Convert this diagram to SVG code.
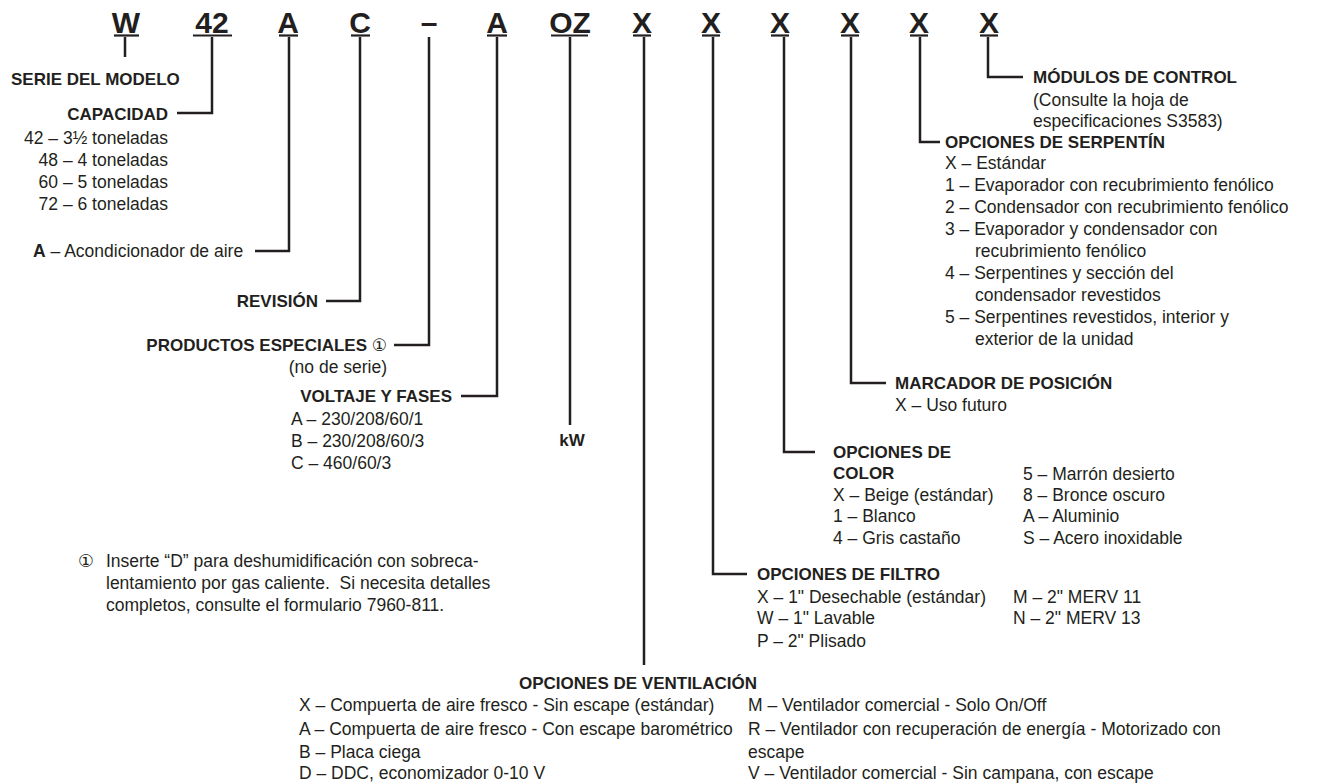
<svg xmlns="http://www.w3.org/2000/svg" width="1317" height="783" viewBox="0 0 1317 783">
<style>
text{font-family:"Liberation Sans",Arial,"DejaVu Sans",sans-serif;fill:#231f20}
.c{font-size:30px;font-weight:bold;text-anchor:middle}
.h{font-size:17px;font-weight:bold}
.t{font-size:17.5px}
.e{text-anchor:end}
.u{stroke:#231f20;stroke-width:2.2}
.k{fill:none;stroke:#231f20;stroke-width:2.5;stroke-linejoin:miter}
</style>
<rect width="1317" height="783" fill="#fff"/>
<g id="code">
<text class="c" x="126" y="33">W</text>
<text class="c" x="212" y="33">42</text>
<text class="c" x="288" y="33">A</text>
<text class="c" x="360" y="33">C</text>
<text class="c" x="429" y="33">–</text>
<text class="c" x="497" y="33">A</text>
<text class="c" x="570" y="33">OZ</text>
<text class="c" x="642" y="33">X</text>
<text class="c" x="711" y="33">X</text>
<text class="c" x="780" y="33">X</text>
<text class="c" x="850" y="33">X</text>
<text class="c" x="919" y="33">X</text>
<text class="c" x="989" y="33">X</text>
<line class="u" x1="114" y1="35.5" x2="139" y2="35.5"/>
<line class="u" x1="193" y1="35.5" x2="232" y2="35.5"/>
<line class="u" x1="279" y1="35.5" x2="298" y2="35.5"/>
<line class="u" x1="351" y1="35.5" x2="370" y2="35.5"/>
<line class="u" x1="487" y1="35.5" x2="507" y2="35.5"/>
<line class="u" x1="551" y1="35.5" x2="588" y2="35.5"/>
<line class="u" x1="633" y1="35.5" x2="651" y2="35.5"/>
<line class="u" x1="702" y1="35.5" x2="720" y2="35.5"/>
<line class="u" x1="771" y1="35.5" x2="789" y2="35.5"/>
<line class="u" x1="841" y1="35.5" x2="859" y2="35.5"/>
<line class="u" x1="910" y1="35.5" x2="928" y2="35.5"/>
<line class="u" x1="980" y1="35.5" x2="998" y2="35.5"/>
</g>
<g id="connectors">
<path class="k" d="M125 37V57"/>
<path class="k" d="M212 37V113H177"/>
<path class="k" d="M289 37V251H255"/>
<path class="k" d="M360 37V301H326"/>
<path class="k" d="M429 37V345H394"/>
<path class="k" d="M497 37V396H461"/>
<path class="k" d="M570 37V425"/>
<path class="k" d="M644 37V665"/>
<path class="k" d="M713 37V574H747"/>
<path class="k" d="M784 37V452H815"/>
<path class="k" d="M851 37V383H886"/>
<path class="k" d="M920 37V142H940"/>
<path class="k" d="M988 37V77H1023"/>
</g>
<g id="serie"><text class="h" x="11" y="85">SERIE DEL MODELO</text></g>
<g id="capacidad">
<text class="h e" x="168" y="120">CAPACIDAD</text>
<text class="t e" x="168" y="144">42 – 3½ toneladas</text>
<text class="t e" x="168" y="166">48 – 4 toneladas</text>
<text class="t e" x="168" y="188">60 – 5 toneladas</text>
<text class="t e" x="168" y="210">72 – 6 toneladas</text>
</g>
<g id="tipo"><text class="t" x="33" y="257"><tspan font-weight="bold">A</tspan> – Acondicionador de aire</text></g>
<g id="revision"><text class="h e" x="318" y="307">REVISIÓN</text></g>
<g id="productos">
<text class="h e" x="387" y="351">PRODUCTOS ESPECIALES <tspan font-weight="normal">①</tspan></text>
<text class="t e" x="387" y="373">(no de serie)</text>
</g>
<g id="voltaje">
<text class="h e" x="452" y="402">VOLTAJE Y FASES</text>
<text class="t" x="291" y="425">A – 230/208/60/1</text>
<text class="t" x="291" y="447">B – 230/208/60/3</text>
<text class="t" x="291" y="469">C – 460/60/3</text>
</g>
<g id="kw"><text class="h" x="572" y="446" text-anchor="middle">kW</text></g>
<g id="nota">
<text class="t" x="78" y="567">①</text>
<text class="t" x="106" y="567">Inserte “D” para deshumidificación con sobreca-</text>
<text class="t" x="106" y="589">lentamiento por gas caliente.&#160; Si necesita detalles</text>
<text class="t" x="106" y="611">completos, consulte el formulario 7960-811.</text>
</g>
<g id="modulos">
<text class="h" x="1033" y="83">MÓDULOS DE CONTROL</text>
<text class="t" x="1033" y="106">(Consulte la hoja de</text>
<text class="t" x="1033" y="127">especificaciones S3583)</text>
</g>
<g id="serpentin">
<text class="h" x="945" y="148">OPCIONES DE SERPENTÍN</text>
<text class="t" x="945" y="169">X – Estándar</text>
<text class="t" x="945" y="191">1 – Evaporador con recubrimiento fenólico</text>
<text class="t" x="945" y="213">2 – Condensador con recubrimiento fenólico</text>
<text class="t" x="945" y="235">3 – Evaporador y condensador con</text>
<text class="t" x="975" y="257">recubrimiento fenólico</text>
<text class="t" x="945" y="279">4 – Serpentines y sección del</text>
<text class="t" x="975" y="301">condensador revestidos</text>
<text class="t" x="945" y="323">5 – Serpentines revestidos, interior y</text>
<text class="t" x="975" y="345">exterior de la unidad</text>
</g>
<g id="marcador">
<text class="h" x="895" y="389">MARCADOR DE POSICIÓN</text>
<text class="t" x="895" y="411">X – Uso futuro</text>
</g>
<g id="color">
<text class="h" x="833" y="458">OPCIONES DE</text>
<text class="h" x="833" y="479">COLOR</text>
<text class="t" x="833" y="501">X – Beige (estándar)</text>
<text class="t" x="833" y="522">1 – Blanco</text>
<text class="t" x="833" y="544">4 – Gris castaño</text>
<text class="t" x="1023" y="480">5 – Marrón desierto</text>
<text class="t" x="1023" y="501">8 – Bronce oscuro</text>
<text class="t" x="1023" y="522">A – Aluminio</text>
<text class="t" x="1023" y="544">S – Acero inoxidable</text>
</g>
<g id="filtro">
<text class="h" x="757" y="580">OPCIONES DE FILTRO</text>
<text class="t" x="757" y="603">X – 1" Desechable (estándar)</text>
<text class="t" x="757" y="624">W – 1" Lavable</text>
<text class="t" x="757" y="647">P – 2" Plisado</text>
<text class="t" x="1013" y="603">M – 2" MERV 11</text>
<text class="t" x="1013" y="624">N – 2" MERV 13</text>
</g>
<g id="ventilacion">
<text class="h" x="519" y="689">OPCIONES DE VENTILACIÓN</text>
<text class="t" x="299" y="711">X – Compuerta de aire fresco - Sin escape (estándar)</text>
<text class="t" x="299" y="735">A – Compuerta de aire fresco - Con escape barométrico</text>
<text class="t" x="299" y="758">B – Placa ciega</text>
<text class="t" x="299" y="779">D – DDC, economizador 0-10 V</text>
<text class="t" x="748" y="711">M – Ventilador comercial - Solo On/Off</text>
<text class="t" x="748" y="735">R – Ventilador con recuperación de energía - Motorizado con</text>
<text class="t" x="748" y="758">escape</text>
<text class="t" x="748" y="779">V – Ventilador comercial - Sin campana, con escape</text>
</g>
</svg>
